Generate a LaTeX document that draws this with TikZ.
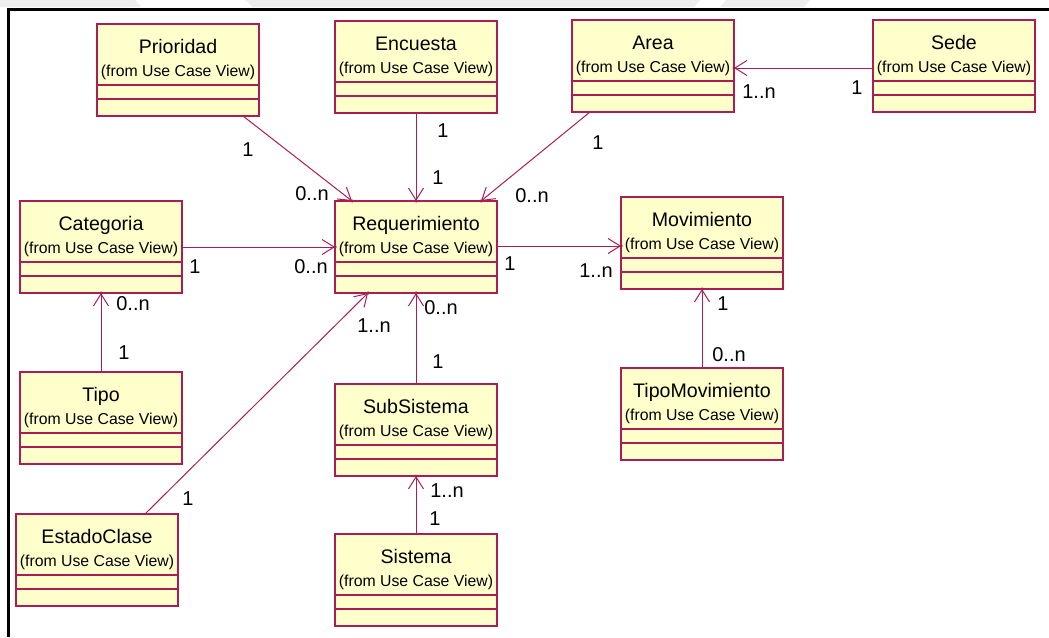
\documentclass[tikz,border=0pt]{standalone}
\usepackage{fontspec}
\setmainfont{Liberation Sans}
\usetikzlibrary{arrows.meta,calc}

\definecolor{umlline}{RGB}{170,30,85}
\definecolor{umlfill}{RGB}{255,255,204}
\definecolor{bandgray}{RGB}{238,238,238}

\tikzset{
  classbox/.style={draw=umlline, fill=umlfill, line width=1.2pt,
    minimum width=162pt, minimum height=92pt, inner sep=0pt, outer sep=0pt,
    anchor=north west},
  ctitle/.style={anchor=base, inner sep=0pt, font=\fontsize{19.6}{19.6}\selectfont},
  csub/.style={anchor=base, inner sep=0pt, font=\fontsize{15.8}{15.8}\selectfont},
  classline/.style={draw=umlline, line width=1.2pt},
  assoc/.style={draw=umlline, line width=1pt,
    -{Straight Barb[length=12pt,width=15pt,line width=1pt]}},
  tipdot/.style={circle, fill=umlline, inner sep=0pt, minimum size=3.5pt},
  mult/.style={inner sep=0pt, font=\fontsize{20}{20}\selectfont},
}

% class box: name, left, top, title
\newcommand{\umlclass}[4]{%
  \node[classbox] (#1) at (#2,#3) {};
  \node[ctitle] (#1-t) at ([yshift=-29pt]#1.north) {#4};
  \node[csub] (#1-s) at ([yshift=-52pt]#1.north) {(from Use Case View)};
  \draw[classline] ([yshift=-61pt]#1.north west) -- ([yshift=-61pt]#1.north east);
  \draw[classline] ([yshift=-75pt]#1.north west) -- ([yshift=-75pt]#1.north east);
}

\begin{document}
\begin{tikzpicture}[x=1pt,y=-1pt]
\useasboundingbox (0,0) rectangle (1049,637);

% page header band and frame
\fill[bandgray] (0,0) -- (135,0) -- (141,7) -- (0,7) -- cycle;
\fill[bandgray] (245,0) -- (700,0) -- (694,7) -- (253,7) -- cycle;
\fill[bandgray] (726,0) -- (810,0) -- (804,7) -- (720,7) -- cycle;
\draw[line width=3pt] (1049,9) -- (8,9) -- (8,637);

% classes
\umlclass{prio}{97}{24}{Prioridad}
\umlclass{enc}{335}{21}{Encuesta}
\umlclass{area}{572}{20}{Area}
\umlclass{sede}{873}{20}{Sede}
\umlclass{cat}{20}{201}{Categoria}
\umlclass{req}{335}{201}{Requerimiento}
\umlclass{mov}{621}{197}{Movimiento}
\umlclass{tipo}{20}{372}{Tipo}
\umlclass{sub}{335}{384}{SubSistema}
\umlclass{tmov}{621}{368}{TipoMovimiento}
\umlclass{est}{16}{514}{EstadoClase}
\umlclass{sis}{335}{534}{Sistema}

% associations
\draw[assoc] ([xshift=146pt]prio.south west) -- ([xshift=17pt]req.north west)
  node[pos=1,tipdot] (d1) {};
\draw[assoc] (enc) -- (req) node[pos=1,tipdot] (d2) {};
\draw[assoc] ([xshift=18pt]area.south west) -- ([xshift=146pt]req.north west)
  node[pos=1,tipdot] (d3) {};
\draw[assoc] ([yshift=-2pt]sede.west) -- ([yshift=-2pt]sede.west -| area.east)
  node[pos=1,tipdot] (d4) {};
\draw[assoc] (cat) -- (req) node[pos=1,tipdot] (d5) {};
\draw[assoc] ([yshift=1pt]req.east) -- ([yshift=1pt]req.east -| mov.west)
  node[pos=1,tipdot] (d6) {};
\draw[assoc] (tipo) -- (cat) node[pos=1,tipdot] (d7) {};
\draw[assoc] ([xshift=129pt]est.north west) -- ([xshift=33pt]req.south west)
  node[pos=1,tipdot] (d8) {};
\draw[assoc] (sub) -- (req) node[pos=1,tipdot] (d9) {};
\draw[assoc] (sis) -- (sub) node[pos=1,tipdot] (d10) {};
\draw[assoc] (tmov) -- (mov) node[pos=1,tipdot] (d11) {};

% multiplicities
\node[mult] (m1a) at (248,150) {1};
\node[mult] (m1b) at (312,194) {0..n};
\node[mult] (m2a) at (443,131) {1};
\node[mult] (m2b) at (438,178) {1};
\node[mult] (m3a) at (598,143) {1};
\node[mult] (m3b) at (532,196) {0..n};
\node[mult] (m4a) at (759,92) {1..n};
\node[mult] (m4b) at (857,88) {1};
\node[mult] (m5a) at (195,267) {1};
\node[mult] (m5b) at (311,267) {0..n};
\node[mult] (m6a) at (510,264) {1};
\node[mult] (m6b) at (596,271) {1..n};
\node[mult] (m7a) at (133,304) {0..n};
\node[mult] (m7b) at (124,353) {1};
\node[mult] (m8a) at (374,326) {1..n};
\node[mult] (m8b) at (188,499) {1};
\node[mult] (m9a) at (441,308) {0..n};
\node[mult] (m9b) at (438,362) {1};
\node[mult] (m10a) at (447,491) {1..n};
\node[mult] (m10b) at (435,519) {1};
\node[mult] (m11a) at (723,304) {1};
\node[mult] (m11b) at (729,355) {0..n};
\end{tikzpicture}
\end{document}
